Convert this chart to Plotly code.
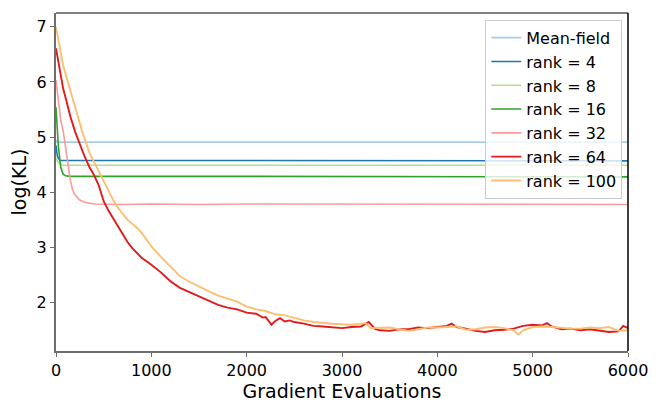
import plotly.graph_objects as go

# flat-ish curves
mf_x = [0, 10, 6000]
mf_y = [4.95, 4.91, 4.91]

r4_x = [0, 15, 40, 3000, 6000]
r4_y = [4.85, 4.65, 4.58, 4.57, 4.57]

r8_x = [0, 20, 50, 100, 3000, 6000]
r8_y = [4.62, 4.55, 4.50, 4.49, 4.49, 4.49]

r16_x = [0, 10, 25, 50, 75, 100, 150, 2000, 4000, 6000]
r16_y = [5.54, 5.30, 4.83, 4.45, 4.33, 4.30, 4.29, 4.29, 4.29, 4.28]

r32_x = [0, 25, 50, 75, 100, 125, 150, 175, 200, 250, 300, 400, 700, 1000, 1500, 2000,
         2500, 3000, 3500, 4000, 4500, 5000, 5500, 6000]
r32_y = [6.03, 5.60, 5.30, 5.12, 4.80, 4.45, 4.22, 4.04, 3.95, 3.86, 3.82, 3.79, 3.78, 3.79,
         3.78, 3.79, 3.79, 3.78, 3.79, 3.78, 3.78, 3.79, 3.78, 3.78]

# rank 64
r64_x = [0, 25, 50, 75, 100, 150, 200, 250, 300, 350, 400, 450, 500, 550, 600, 650, 700,
         750, 800, 850, 900, 950, 1000, 1100, 1200, 1300, 1400, 1500, 1600, 1700, 1800,
         1900, 2000, 2100, 2170, 2200, 2260, 2300, 2350, 2400, 2450, 2500, 2600, 2700,
         2800, 2900, 3000, 3100, 3200, 3280, 3350, 3400, 3500, 3600, 3700, 3800, 3900,
         4000, 4100, 4150, 4200, 4300, 4400, 4500, 4600, 4700, 4800, 4900, 5000, 5100,
         5150, 5200, 5300, 5400, 5500, 5600, 5700, 5800, 5900, 5950, 6000]
r64_y = [6.61, 6.35, 6.10, 5.88, 5.72, 5.38, 5.10, 4.86, 4.65, 4.46, 4.31, 4.12, 3.84,
         3.67, 3.53, 3.40, 3.25, 3.10, 2.99, 2.89, 2.81, 2.75, 2.69, 2.55, 2.39, 2.27,
         2.19, 2.12, 2.03, 1.96, 1.91, 1.88, 1.82, 1.80, 1.73, 1.74, 1.60, 1.67, 1.72,
         1.66, 1.68, 1.65, 1.62, 1.58, 1.57, 1.56, 1.54, 1.56, 1.57, 1.65, 1.52, 1.50,
         1.49, 1.52, 1.52, 1.55, 1.54, 1.56, 1.58, 1.62, 1.56, 1.53, 1.49, 1.47, 1.50,
         1.51, 1.53, 1.58, 1.60, 1.59, 1.63, 1.57, 1.52, 1.53, 1.50, 1.52, 1.50, 1.47,
         1.48, 1.58, 1.54]

# rank 100
r100_x = [0, 25, 50, 75, 100, 140, 200, 250, 280, 350, 400, 455, 500, 550, 600, 650, 700,
          750, 800, 850, 900, 950, 1000, 1100, 1200, 1300, 1400, 1500, 1600, 1700, 1800,
          1900, 2000, 2100, 2200, 2300, 2400, 2500, 2600, 2700, 2800, 2900, 3000, 3100,
          3200, 3250, 3300, 3400, 3500, 3600, 3700, 3800, 3900, 4000, 4100, 4200, 4300,
          4400, 4500, 4600, 4700, 4800, 4850, 4900, 5000, 5100, 5200, 5300, 5400, 5500,
          5600, 5700, 5800, 5900, 6000]
r100_y = [7.00, 6.75, 6.50, 6.30, 6.15, 5.91, 5.58, 5.25, 5.07, 4.72, 4.55, 4.34, 4.18,
          4.02, 3.86, 3.72, 3.60, 3.50, 3.43, 3.36, 3.26, 3.14, 3.02, 2.83, 2.65, 2.48,
          2.38, 2.29, 2.21, 2.13, 2.08, 2.02, 1.93, 1.88, 1.85, 1.79, 1.77, 1.72, 1.68,
          1.65, 1.63, 1.62, 1.61, 1.60, 1.62, 1.63, 1.54, 1.55, 1.55, 1.52, 1.49, 1.52,
          1.55, 1.55, 1.56, 1.57, 1.51, 1.52, 1.55, 1.56, 1.54, 1.50, 1.42, 1.50, 1.56,
          1.57, 1.56, 1.54, 1.53, 1.53, 1.55, 1.54, 1.56, 1.49, 1.50]

series = [
    ("Mean-field", mf_x, mf_y, "#a6cee3", 1.6),
    ("rank = 4", r4_x, r4_y, "#1f78b4", 1.6),
    ("rank = 8", r8_x, r8_y, "#b2df8a", 1.6),
    ("rank = 16", r16_x, r16_y, "#33a02c", 1.6),
    ("rank = 32", r32_x, r32_y, "#fb9a99", 1.6),
    ("rank = 64", r64_x, r64_y, "#e31a1c", 1.9),
    ("rank = 100", r100_x, r100_y, "#fdbf6f", 1.9),
]

fig = go.Figure()
for name, xs, ys, col, w in series:
    fig.add_trace(go.Scatter(x=xs, y=ys, mode="lines", name=name,
                             line=dict(color=col, width=w)))

# page body has an 8px margin, so the figure is a bit smaller than the window
fig.update_layout(
    width=648, height=399,
    margin=dict(l=48, r=28, t=5, b=56),
    plot_bgcolor="white", paper_bgcolor="white",
    font=dict(family="DejaVu Sans", size=16, color="black"),
    showlegend=True,
    legend=dict(x=0.99, y=0.98, xanchor="right", yanchor="top",
                bgcolor="rgba(255,255,255,0.8)", bordercolor="#cccccc", borderwidth=1,
                font=dict(size=16), tracegroupgap=0),
    xaxis=dict(title=dict(text="Gradient Evaluations", standoff=2),
               range=[0, 6000], tickvals=[0, 1000, 2000, 3000, 4000, 5000, 6000],
               showgrid=False, zeroline=False, showline=True, linecolor="#6e6e6e",
               linewidth=2, ticks="outside", ticklen=4, tickcolor="#6e6e6e",
               automargin=False),
    yaxis=dict(title=dict(text="log(KL)", standoff=10),
               range=[1.125, 7.25], tickvals=[2, 3, 4, 5, 6, 7],
               showgrid=False, zeroline=False, showline=True, linecolor="#6e6e6e",
               linewidth=2, ticks="outside", ticklen=4, tickcolor="#6e6e6e",
               automargin=False),
)
# top and right spines
fig.add_shape(type="line", xref="paper", yref="paper", x0=0, x1=1, y0=1, y1=1,
              line=dict(color="black", width=1))
fig.add_shape(type="line", xref="paper", yref="paper", x0=1, x1=1, y0=0, y1=1,
              line=dict(color="black", width=1.5))

fig.write_html("out.html")
